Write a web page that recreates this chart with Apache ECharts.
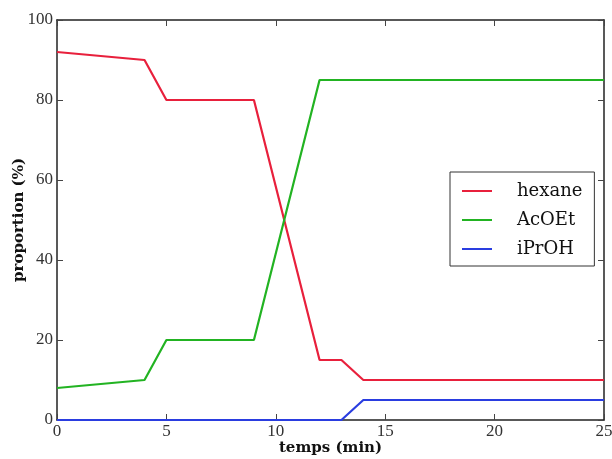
<!DOCTYPE html>
<html><head><meta charset="utf-8">
<script src="https://cdn.jsdelivr.net/npm/echarts@6/dist/echarts.min.js"></script>
<style>html,body{margin:0;padding:0;background:#fff}#c{width:612px;height:459px}</style>
</head><body><div id="c"></div>
<script>
const hexane = [[0,92],[4,90],[5,80],[9,80],[12,15],[13,15],[14,10],[25,10]];
const acoet = [[0,8],[4,10],[5,20],[9,20],[12,85],[25,85]];
const iproh = [[0,0],[13,0],[14,5],[25,5]];
const seriesNames = ['hexane','AcOEt','iPrOH'];
const colors = ['#e8203c','#22b322','#2a3de0'];
const font = 'DejaVu Serif';
const tickFont = 'Liberation Serif';
const chart = echarts.init(document.getElementById('c'));
const axisLine = {show:true, onZero:false, lineStyle:{color:'#222', width:1.5}};
const tick = {show:true, inside:true, length:6, lineStyle:{color:'#444'}};
chart.setOption({
  animation:false,
  textStyle:{fontFamily:font},
  grid:{left:57,right:8,top:20,bottom:39, containLabel:false, outerBoundsMode:'none'},
  legend:{
    orient:'vertical', left:450, top:172, width:143,
    padding:[10,12,8,12], itemGap:11,
    borderColor:'#333', borderWidth:1, backgroundColor:'#fff',
    icon:'path://M0,0 L30,0 L30,2 L0,2 Z', itemWidth:30, itemHeight:2,
    textStyle:{fontFamily:font, fontSize:18, color:'#111', padding:[0,0,0,20]},
    data:seriesNames
  },
  xAxis:[{
    type:'value', min:0, max:25, interval:5,
    name:'temps (min)', nameLocation:'middle', nameGap:21, nameMoveOverlap:false,
    nameTextStyle:{fontFamily:font, fontSize:15, fontWeight:'bold', color:'#111'},
    axisLine, axisTick:tick, splitLine:{show:false},
    axisLabel:{fontFamily:tickFont, fontSize:17, color:'#333', margin:3}
  },{
    type:'value', min:0, max:25, interval:5, position:'top',
    axisLine, axisTick:tick, axisLabel:{show:false}, splitLine:{show:false}
  }],
  yAxis:[{
    type:'value', min:0, max:100, interval:20,
    name:'proportion (%)', nameLocation:'middle', nameGap:30, nameMoveOverlap:false,
    nameTextStyle:{fontFamily:font, fontSize:15, fontWeight:'bold', color:'#111'},
    axisLine, axisTick:tick, splitLine:{show:false},
    axisLabel:{fontFamily:tickFont, fontSize:17, color:'#333', margin:4}
  },{
    type:'value', min:0, max:100, interval:20, position:'right',
    axisLine, axisTick:tick, axisLabel:{show:false}, splitLine:{show:false}
  }],
  series:[hexane,acoet,iproh].map((d,i)=>({
    name:seriesNames[i], type:'line', data:d, showSymbol:false,
    lineStyle:{color:colors[i], width:2.2}, itemStyle:{color:colors[i]}
  }))
});
</script></body></html>
